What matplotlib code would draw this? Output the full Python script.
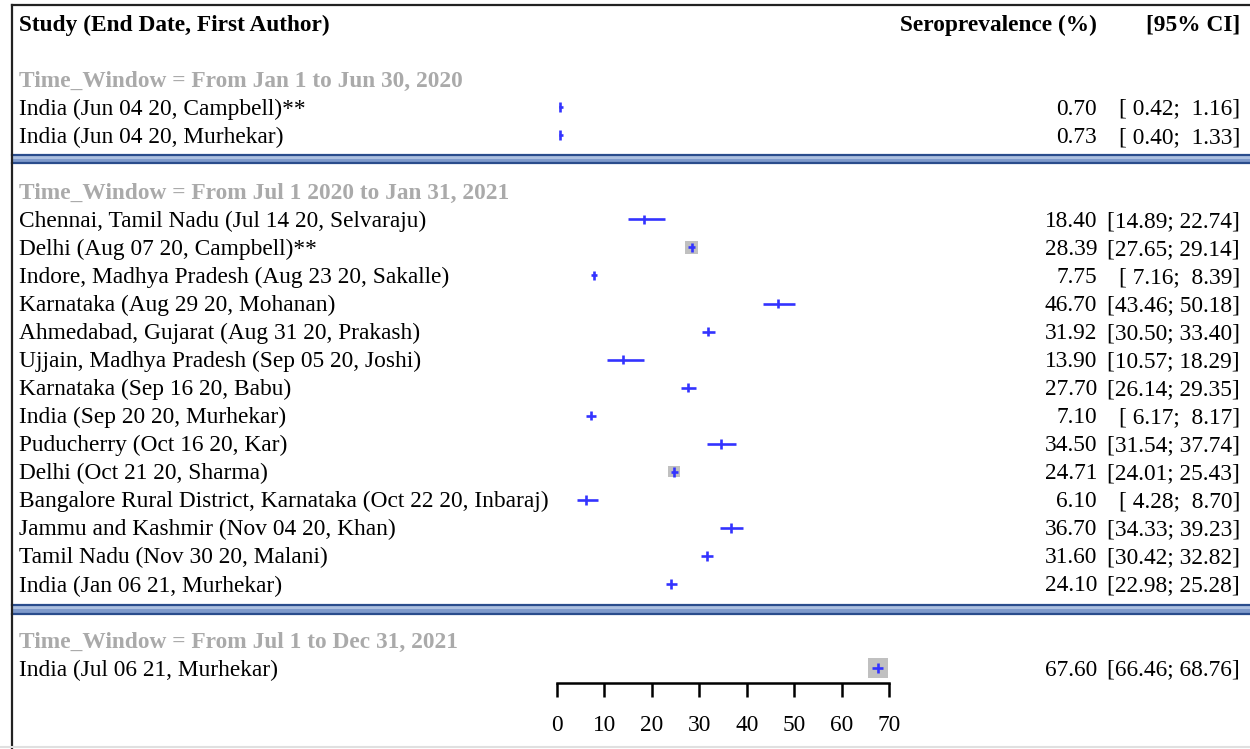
import matplotlib
matplotlib.use("Agg")
import matplotlib.pyplot as plt
from matplotlib.patches import Rectangle
from matplotlib import transforms
import numpy as np

plt.rcParams['font.family'] = ['Liberation Serif', 'DejaVu Serif']

# ---------------- data ----------------
group_titles = [
    "Time_Window = From Jan 1 to Jun 30, 2020",
    "Time_Window = From Jul 1 2020 to Jan 31, 2021",
    "Time_Window = From Jul 1 to Dec 31, 2021",
]
g1_studies = ["India (Jun 04 20, Campbell)**", "India (Jun 04 20, Murhekar)"]
g1_est = [0.70, 0.73]
g1_lo = [0.42, 0.40]
g1_hi = [1.16, 1.33]
g1_w = [0.3, 0.3]

g2_studies = [
    "Chennai, Tamil Nadu (Jul 14 20, Selvaraju)",
    "Delhi (Aug 07 20, Campbell)**",
    "Indore, Madhya Pradesh (Aug 23 20, Sakalle)",
    "Karnataka (Aug 29 20, Mohanan)",
    "Ahmedabad, Gujarat (Aug 31 20, Prakash)",
    "Ujjain, Madhya Pradesh (Sep 05 20, Joshi)",
    "Karnataka (Sep 16 20, Babu)",
    "India (Sep 20 20, Murhekar)",
    "Puducherry (Oct 16 20, Kar)",
    "Delhi (Oct 21 20, Sharma)",
    "Bangalore Rural District, Karnataka (Oct 22 20, Inbaraj)",
    "Jammu and Kashmir (Nov 04 20, Khan)",
    "Tamil Nadu (Nov 30 20, Malani)",
    "India (Jan 06 21, Murhekar)",
]
g2_est = [18.40, 28.39, 7.75, 46.70, 31.92, 13.90, 27.70, 7.10, 34.50, 24.71, 6.10, 36.70, 31.60, 24.10]
g2_lo = [14.89, 27.65, 7.16, 43.46, 30.50, 10.57, 26.14, 6.17, 31.54, 24.01, 4.28, 34.33, 30.42, 22.98]
g2_hi = [22.74, 29.14, 8.39, 50.18, 33.40, 18.29, 29.35, 8.17, 37.74, 25.43, 8.70, 39.23, 32.82, 25.28]
g2_w = [0.3, 18.0, 0.3, 0.3, 0.3, 0.3, 0.3, 0.3, 0.3, 13.0, 0.3, 0.3, 0.3, 0.3]

g3_studies = ["India (Jul 06 21, Murhekar)"]
g3_est = [67.60]
g3_lo = [66.46]
g3_hi = [68.76]
g3_w = [40.0]

xticks = [0, 10, 20, 30, 40, 50, 60, 70]

# ---------------- layout ----------------
W, H, DPI = 1250, 749, 100
fig = plt.figure(figsize=(W / DPI, H / DPI), dpi=DPI)
ax = fig.add_axes([0, 0, 1, 1])
ax.set_axis_off()

px0, px70 = 557, 889           # pixel position of x = 0 and x = 70
ppu = (px70 - px0) / 70.0       # pixels per unit
ax.set_xlim(-px0 / ppu, (W - px0) / ppu)
line0, lstep = 23.0, 28.05      # pixel y of line 0, and line spacing
ax.set_ylim((H - line0) / lstep, -line0 / lstep)

def xpx(p):
    return (p - px0) / ppu

def ypx(p):
    return (p - line0) / lstep

FS = 16.8
TOFF = 0.07   # small downward text offset (in lines)
BLUE = "#3333ff"
GRAYTXT = "#aaaaaa"
SQ = "#c0c0c0"

# header
ax.text(xpx(19), TOFF, "Study (End Date, First Author)", fontsize=FS, fontweight="bold", va="center", ha="left")
ax.text(xpx(1097), TOFF, "Seroprevalence (%)", fontsize=FS, fontweight="bold", va="center", ha="right")
ax.text(xpx(1240), TOFF, "[95% CI]", fontsize=FS, fontweight="bold", va="center", ha="right")

def fmt_ci(lo, hi):
    return "[%5.2f; %5.2f]" % (lo, hi)

def draw_group(title, title_line, studies, est, lo, hi, w):
    ax.text(xpx(19), title_line + TOFF, title, fontsize=FS, fontweight="bold", color=GRAYTXT, va="center", ha="left")
    for i, (s, e, l, h, wt) in enumerate(zip(studies, est, lo, hi, w)):
        y = title_line + 1 + i
        ax.text(xpx(19), y + TOFF, s, fontsize=FS, va="center", ha="left")
        ax.text(xpx(1097), y + TOFF, "%.2f" % e, fontsize=FS, va="center", ha="right")
        ax.text(xpx(1240), y + TOFF, fmt_ci(l, h), fontsize=FS, va="center", ha="right")
        side_pt = np.sqrt(wt) * 3.16 * 0.72
        ax.scatter([e], [y], s=side_pt ** 2, marker="s", color=SQ, edgecolors="none", zorder=2)
        ax.plot([l, h], [y, y], color=BLUE, lw=1.9, solid_capstyle="butt", zorder=3)
        ax.plot([e, e], [y - 0.17, y + 0.17], color=BLUE, lw=1.9, solid_capstyle="butt", zorder=3)

draw_group(group_titles[0], 2, g1_studies, g1_est, g1_lo, g1_hi, g1_w)
draw_group(group_titles[1], 6, g2_studies, g2_est, g2_lo, g2_hi, g2_w)
draw_group(group_titles[2], 22, g3_studies, g3_est, g3_lo, g3_hi, g3_w)

# separator bands
def band(y_top_px, y_bot_px):
    yt = ypx(y_top_px)
    yb = ypx(y_bot_px)
    x0 = xpx(12)
    x1 = xpx(W + 5)
    ax.add_patch(Rectangle((x0, yt), x1 - x0, yb - yt, facecolor="#7f9acb", edgecolor="none", zorder=1))
    ax.add_patch(Rectangle((x0, yt + (yb - yt) * 0.15), x1 - x0, (yb - yt) * 0.35, facecolor="#adc0e0", edgecolor="none", zorder=1))
    ax.plot([x0, x1], [yt, yt], color="#2a4c8c", lw=1.6, zorder=1)
    ax.plot([x0, x1], [yb, yb], color="#2a4c8c", lw=1.6, zorder=1)

band(155, 163)
band(605, 614)

# frame lines (left and top)
ax.plot([xpx(11.5), xpx(11.5)], [ypx(4.5), ypx(H)], color="#222222", lw=1.6)
ax.plot([xpx(11.5), xpx(W)], [ypx(4.5), ypx(4.5)], color="#222222", lw=1.6)
ax.plot([xpx(0), xpx(W)], [ypx(747.5), ypx(747.5)], color="#e0e0e0", lw=1.5)

# x axis (separate axes sharing the same scale)
axx = fig.add_axes([px0 / W, 1 - 697 / H, (px70 - px0) / W, 14 / H])
axx.set_xlim(0, 70)
axx.set_ylim(0, 1)
axx.patch.set_visible(False)
for sp in ["left", "right", "bottom"]:
    axx.spines[sp].set_visible(False)
axx.spines["top"].set_linewidth(1.8)
axx.spines["top"].set_capstyle("projecting")
axx.xaxis.set_ticks_position("top")
axx.set_xticks(xticks)
axx.tick_params(axis="x", direction="in", length=10, width=1.8,
                labeltop=False, labelbottom=False)
axx.set_yticks([])
lab_tr = transforms.blended_transform_factory(axx.transData, ax.transData)
for t in xticks:
    ax.text(t, ypx(724) + TOFF, str(t), transform=lab_tr, fontsize=FS, ha="center", va="center")

fig.savefig("out.png", dpi=DPI)
